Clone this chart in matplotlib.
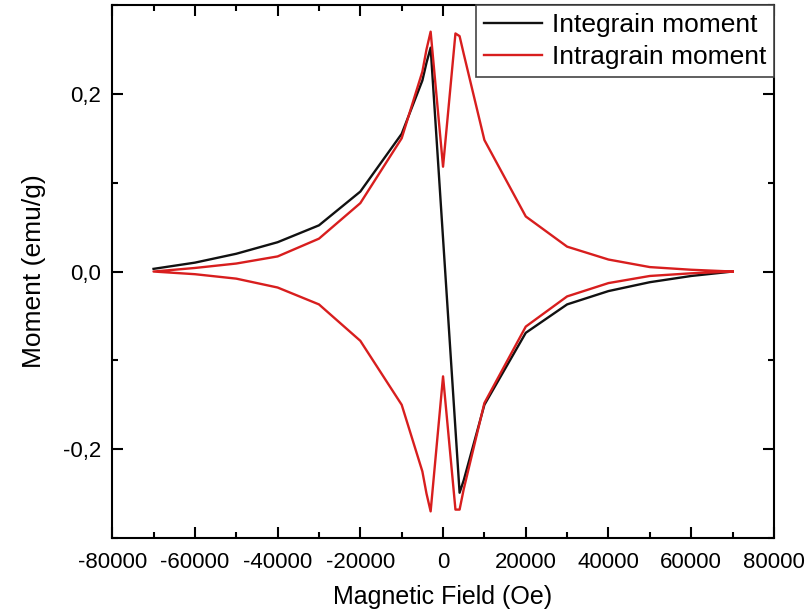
import numpy as np
import matplotlib
matplotlib.use('Agg')
import matplotlib.pyplot as plt
from matplotlib.ticker import MultipleLocator, FuncFormatter

plt.rcParams['font.family'] = ['Liberation Sans', 'DejaVu Sans']

# Integrain moment (black): upper-left branch, jump, lower-right branch
inter_field = [-70000, -60000, -50000, -40000, -30000, -20000, -10000, -5000, -4000, -3000,
               4000, 5000, 10000, 20000, 30000, 40000, 50000, 60000, 70000]
inter_moment = [0.003, 0.010, 0.020, 0.033, 0.052, 0.090, 0.155, 0.215, 0.235, 0.252,
                -0.249, -0.235, -0.150, -0.069, -0.037, -0.022, -0.012, -0.005, 0.0]

# Intragrain moment (red): closed loop
intra_field = [70000, 60000, 50000, 40000, 30000, 20000, 10000, 5000, 4000, 3000, 0,
               -3000, -4000, -5000, -10000, -20000, -30000, -40000, -50000, -60000, -70000,
               -60000, -50000, -40000, -30000, -20000, -10000, -5000, -4000, -3000, 0,
               3000, 4000, 5000, 10000, 20000, 30000, 40000, 50000, 60000, 70000]
intra_moment = [0.0, 0.002, 0.005, 0.0135, 0.028, 0.062, 0.148, 0.245, 0.265, 0.268, 0.118,
                0.270, 0.250, 0.225, 0.150, 0.077, 0.037, 0.017, 0.009, 0.004, 0.0,
                -0.003, -0.008, -0.018, -0.037, -0.078, -0.150, -0.225, -0.250, -0.270, -0.118,
                -0.268, -0.268, -0.245, -0.148, -0.062, -0.028, -0.013, -0.005, -0.002, 0.0]

fig = plt.figure(figsize=(8.07, 6.13), dpi=100)
ax = fig.add_axes([0.139, 0.1223, 0.820, 0.8695])

ax.plot(inter_field, inter_moment, color='#111111', lw=1.7, label='Integrain moment')
ax.plot(intra_field, intra_moment, color='#d81e1e', lw=1.7, label='Intragrain moment')

ax.set_xlim(-80000, 80000)
ax.set_ylim(-0.3, 0.3)
ax.xaxis.set_major_locator(MultipleLocator(20000))
ax.xaxis.set_minor_locator(MultipleLocator(10000))
ax.yaxis.set_major_locator(MultipleLocator(0.2))
ax.yaxis.set_minor_locator(MultipleLocator(0.1))
ax.xaxis.set_major_formatter(FuncFormatter(lambda v, p: '%d' % int(round(v))))
ax.yaxis.set_major_formatter(FuncFormatter(lambda v, p: ('%.1f' % v).replace('.', ',')))

ax.tick_params(which='both', direction='in', top=True, right=True, labelsize=16, width=1.5)
ax.tick_params(which='major', length=8)
ax.tick_params(which='minor', length=4.5)
ax.tick_params(axis='x', which='major', pad=10)
ax.tick_params(axis='y', which='major', pad=8)
for s in ax.spines.values():
    s.set_linewidth(1.5)

ax.set_xlabel('Magnetic Field (Oe)', fontsize=18, labelpad=9)
ax.set_ylabel('Moment (emu/g)', fontsize=19, labelpad=12)

leg = ax.legend(loc='upper right', fontsize=19, borderaxespad=0, fancybox=False,
                handlelength=2.2, handletextpad=0.35, borderpad=0.3, labelspacing=0.3,
                framealpha=1)
leg.get_frame().set_edgecolor('#444444')
leg.get_frame().set_linewidth(1.2)

fig.savefig('out.png', dpi=100)
